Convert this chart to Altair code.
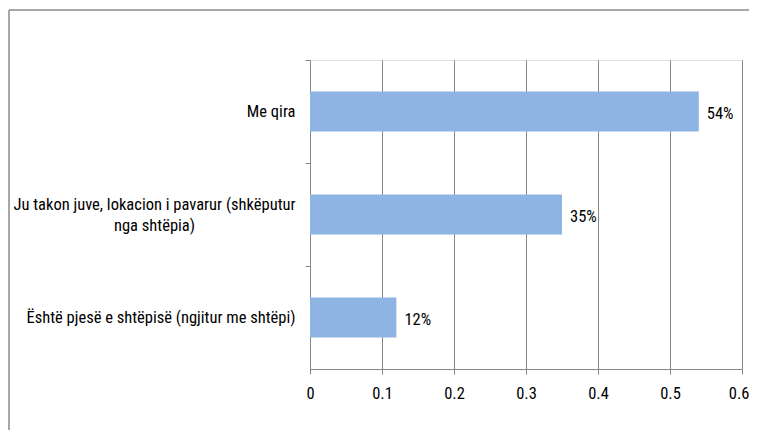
import altair as alt
import pandas as pd

categories = [
    "Me qira",
    "Ju takon juve, lokacion i pavarur (shkëputur nga shtëpia)",
    "Është pjesë e shtëpisë  (ngjitur me shtëpi)",
]
values = [0.54, 0.35, 0.12]
x_ticks = [0, 0.1, 0.2, 0.3, 0.4, 0.5, 0.6]

FONT = "Liberation Sans Narrow, Roboto Condensed, DejaVu Sans Condensed, sans-serif"
FS = 16.5
GRAY = "#868686"
BAR = "#8EB4E3"

df = pd.DataFrame({"category": categories, "value": values})

wrapped = categories[1]
label_expr = (
    f"datum.label == '{wrapped}' ? "
    "['Ju takon juve, lokacion i pavarur (shkëputur', 'nga shtëpia)'] : datum.label"
)
is_wrapped = f"datum.value == '{wrapped}'"
is_last_x = f"datum.value >= {x_ticks[-1] - 0.01}"

W, H = 432, 309
step = H / 3

y_enc = alt.Y(
    "category:N",
    sort=categories,
    title=None,
    scale=alt.Scale(paddingInner=0.61, paddingOuter=0.305),
    axis=alt.Axis(
        labelExpr=label_expr,
        labelFont=FONT,
        labelFontSize=FS,
        labelColor="#000000",
        labelLineHeight=21,
        labelPadding={"condition": {"test": is_wrapped, "value": 151}, "value": 10},
        labelAlign={"condition": {"test": is_wrapped, "value": "center"}, "value": "right"},
        labelBaseline="middle",
        labelLimit=400,
        tickSize=5,
        tickColor=GRAY,
        domainColor=GRAY,
        tickOffset=-step / 2,
        labelOffset={"condition": {"test": is_wrapped, "value": step / 2 - 10}, "value": step / 2},
        grid=False,
    ),
)
x_enc = alt.X(
    "value:Q",
    title=None,
    scale=alt.Scale(domain=[0, 0.6], nice=False),
    axis=alt.Axis(
        values=x_ticks,
        format=".1~f",
        labelFont=FONT,
        labelFontSize=FS,
        labelColor="#000000",
        labelPadding=11,
        labelAlign={"condition": {"test": is_last_x, "value": "right"}, "value": "center"},
        labelOffset={"condition": {"test": is_last_x, "value": 7}, "value": 0},
        tickSize=5,
        tickColor=GRAY,
        domainColor=GRAY,
        grid=True,
        gridColor=GRAY,
        gridOpacity=1,
        labelFlush=False,
    ),
)

base = alt.Chart(df)
bars = base.mark_bar(color=BAR).encode(x=x_enc, y=y_enc)
texts = base.mark_text(
    align="left", baseline="middle", dx=8, dy=2, font=FONT, fontSize=FS, color="#000000"
).encode(
    x="value:Q",
    y=alt.Y("category:N", sort=categories),
    text=alt.Text("value:Q", format=".0%"),
)

frame_data = alt.Data(values=[{"a": 1}])
frame_left = alt.Chart(frame_data).mark_rule(color="#8a8a8a", strokeWidth=1.5).encode(
    x=alt.value(-301), y=alt.value(-50), y2=alt.value(H + 80)
)
frame_top = alt.Chart(frame_data).mark_rule(color="#8a8a8a", strokeWidth=1.5).encode(
    x=alt.value(-301), x2=alt.value(W + 30), y=alt.value(-50)
)

chart = (
    alt.layer(bars, texts, frame_left, frame_top)
    .properties(
        width=W,
        height=H,
        autosize=alt.AutoSizeParams(type="none"),
        padding={"left": 302, "top": 52, "right": 7, "bottom": 61},
    )
    .configure_view(stroke=None)
    .configure(background="white")
)

chart.save("out.html", embed_options={"renderer": "svg", "actions": False})
